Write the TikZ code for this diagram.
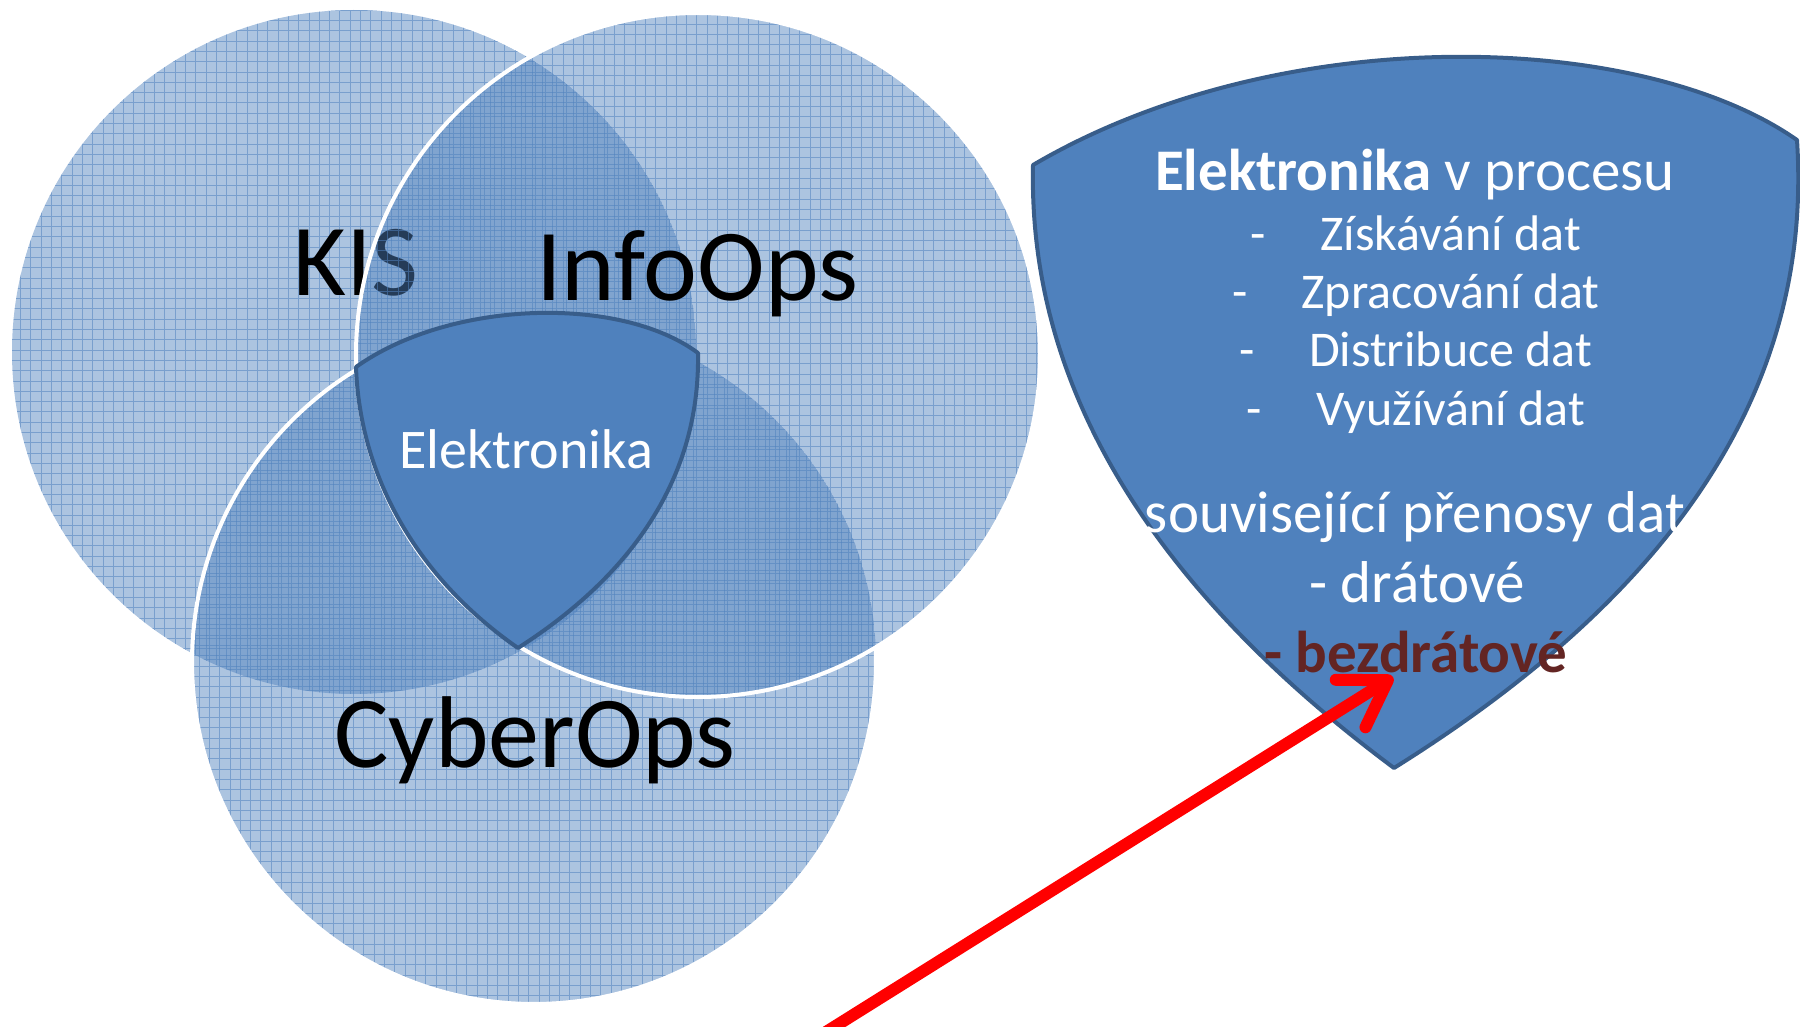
\documentclass[tikz,border=0pt]{standalone}
\usepackage{fontspec}
\setmainfont{Carlito}
\usetikzlibrary{arrows.meta}
\definecolor{officeblue}{HTML}{4F81BD}
\definecolor{shieldline}{HTML}{385D8A}
\definecolor{wirelessred}{HTML}{632523}

\begin{document}
\begin{tikzpicture}
  [x=0.5pt,y=-0.5pt,
   venn/.style={fill=officeblue,fill opacity=.47},
   gridlines/.style={draw=officeblue,draw opacity=.55,line width=.5pt},
   rim/.style={draw=white,line width=2pt},
   shield/.style={fill=officeblue,draw=shieldline,line width=2pt,line join=round},
   every node/.style={inner sep=0pt,anchor=base},
   biglabel/.style={font=\fontsize{51}{60}\selectfont},
   title/.style={font=\fontsize{29.5}{34}\selectfont,text=white},
   item/.style={font=\fontsize{25}{30}\selectfont,text=white},
   pointer/.style={draw=red,line width=6pt,-{Straight Barb[length=22pt,width=28pt,round]}}]
  \useasboundingbox (0,0) rectangle (1800,1027);
  \clip (0,0) rectangle (1800,1027);

  % the three circles, each with its own grid and label
  \foreach \name/\cx/\cy/\lx/\ly/\off in {KIS/354/352/356/296/0,
      CyberOps/534/662/535/767/3.4, InfoOps/698/355/697/301/6.8} {
    \coordinate (\name c) at (\cx,\cy);
    \begin{scope}
      \clip (\name c) circle[radius=342];
      \fill[venn] (\name c) circle[radius=342];
      \draw[gridlines,step=5.15pt,xshift=\off*0.5pt,yshift=\off*0.5pt]
        (0,0) grid (1800,1027);
    \end{scope}
    \node[biglabel] (\name) at (\lx,\ly) {\name};
  }
  \draw[rim] (CyberOpsc) ++(-2.6:342) arc[start angle=-2.6,end angle=238.5,radius=342];
  \draw[rim] (InfoOpsc) circle[radius=342];

  % small shield in the middle
  \draw[shield] (356,367) .. controls (450,300) and (620,295) .. (698,353)
    .. controls (700,470) and (640,570) .. (518,648)
    .. controls (420,580) and (360,480) .. cycle;
  \node[title,font=\fontsize{28}{34}\selectfont] (elinner) at (526,468) {Elektronika};

  % big shield on the right
  \draw[shield] (1033,165) .. controls (1280,20) and (1640,30) .. (1797,140)
    .. controls (1812,370) and (1695,580) .. (1394,768)
    .. controls (1155,590) and (1028,390) .. cycle;
  \node[title] (proces) at (1415,191) {\textbf{Elektronika} v procesu};
  \node[item] (ziskani) at (1416,251) {-\hspace{27pt}Získávání dat};
  \node[item] (zpracovani) at (1416,309) {-\hspace{27pt}Zpracování dat};
  \node[item] (distribuce) at (1416,366) {-\hspace{27pt}Distribuce dat};
  \node[item] (vyuziti) at (1416,425) {-\hspace{27pt}Využívání dat};
  \node[title] (prenosy) at (1415,532) {související přenosy dat};
  \node[title] (dratove) at (1417,602) {- drátové};
  \node[title,text=wirelessred] (bezdratove) at (1416,672) {\textbf{- bezdrátové}};

  \coordinate (arrowfoot) at (826,1032);
  \coordinate (arrowtip) at (1393,677);
  \draw[pointer] (arrowfoot) -- (arrowtip);
\end{tikzpicture}
\end{document}
